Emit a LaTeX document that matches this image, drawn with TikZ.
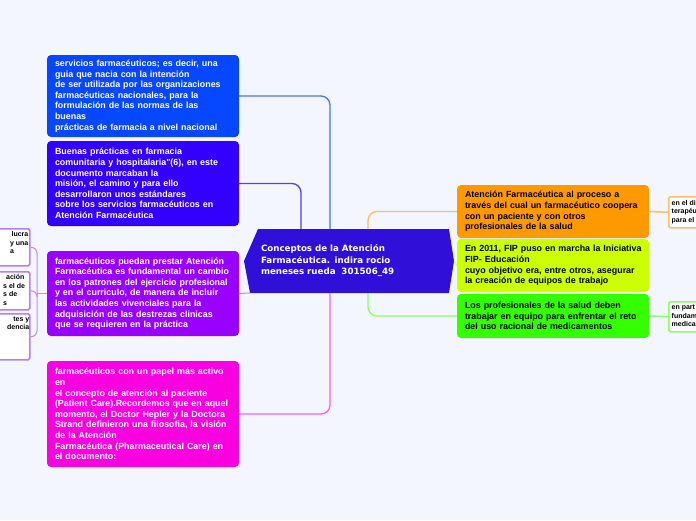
\documentclass[tikz,border=0pt]{standalone}
\usepackage{fontspec}
\setmainfont{Liberation Sans}[Ligatures=TeXOff]
\newfontfamily\dejavu{DejaVu Sans}
\definecolor{bgc}{HTML}{F3F6FE}
\definecolor{cblue}{HTML}{0548FF}
\definecolor{cindigo}{HTML}{3300FF}
\definecolor{cpurple}{HTML}{9900FF}
\definecolor{cmagenta}{HTML}{F800DF}
\definecolor{ccenter}{HTML}{3010D8}
\definecolor{corange}{HTML}{FF9900}
\definecolor{cyellow}{HTML}{CCFF00}
\definecolor{cgreen}{HTML}{33FF00}
\definecolor{lblue}{HTML}{4573FF}
\definecolor{lindigo}{HTML}{5A3BF0}
\definecolor{lpurple}{HTML}{C58CFF}
\definecolor{lmagenta}{HTML}{FF5CEE}
\definecolor{lorange}{HTML}{FFBE66}
\definecolor{lyellow}{HTML}{DDFF55}
\definecolor{lgreen}{HTML}{88FF66}
\definecolor{bpurple}{HTML}{B77CFF}
\begin{document}
\begin{tikzpicture}[x=1pt,y=-1pt,
  bigbox/.style={rectangle, rounded corners=4pt, minimum width=192pt, text width=176pt,
    inner xsep=8pt, inner ysep=0pt, align=left,
    font=\fontsize{8.9}{10.6}\selectfont\bfseries},
  wbox/.style={bigbox, text=white},
  kbox/.style={bigbox, text=black},
  conn/.style={line width=1.3pt, rounded corners=9pt},
  thinconn/.style={line width=1pt, rounded corners=6pt},
  sbox/.style={rectangle, rounded corners=1.5pt, line width=1.5pt, fill=white, inner sep=0pt},
  stxt/.style={inner sep=0pt, font=\fontsize{7}{8.5}\selectfont\bfseries, text=black}
]
\useasboundingbox (0,0) rectangle (696,520);
\fill[bgc] (0,0) rectangle (696,520);

% central topic shape
\fill[ccenter] (258,229) -- (449,229) -- (454,261) -- (449,293) -- (250,293) -- (244,261) -- cycle;
\node[minimum width=209pt, minimum height=64pt, text width=177pt, inner xsep=16pt, inner ysep=0pt,
  align=left, text=white, font=\dejavu\fontsize{8.7}{11.5}\selectfont\bfseries]
  (ctr) at (349.5,261) {Conceptos de la Atención\\Farmacéutica. indira rocio\\meneses rueda\ \ 301506\_49};

% left main branches
\node[wbox, fill=cblue, minimum height=82pt] (b1) at (143,96) {servicios farmacéuticos; es decir, una\\guia que nacia con la intención\\de ser utilizada por las organizaciones\\farmacéuticas nacionales, para la\\formulación de las normas de las\\buenas\\prácticas de farmacia a nivel nacional};
\node[wbox, fill=cindigo, minimum height=85pt] (b2) at (143,183.5) {Buenas prácticas en farmacia\\comunitaria y hospitalaria"(6), en este\\documento marcaban la\\misión, el camino y para ello\\desarrollaron unos estándares\\sobre los servicios farmacéuticos en\\Atención Farmacéutica};
\node[wbox, fill=cpurple, minimum height=85pt] (b3) at (143,293.5) {farmacéuticos puedan prestar Atención\\Farmacéutica es fundamental un cambio\\en los patrones del ejercicio profesional\\y en el curriculo, de manera de incluir\\las actividades vivenciales para la\\adquisición de las destrezas clinicas\\que se requieren en la práctica};
\node[wbox, fill=cmagenta, minimum height=106pt] (b4) at (143,414) {farmacéuticos con un papel más activo\\en\\el concepto de atención al paciente\\(Patient Care).Recordemos que en aquel\\momento, el Doctor Hepler y la Doctora\\Strand definieron una filosofia, la visión\\de la Atención\\Farmacéutica (Pharmaceutical Care) en\\el documento:};

% right main branches
\node[kbox, fill=corange, minimum height=53pt] (o1) at (553,211.5) {Atención Farmacéutica al proceso a\\través del cual un farmacéutico coopera\\con un paciente y con otros\\profesionales de la salud};
\node[kbox, fill=cyellow, minimum height=53pt] (y1) at (553,265.5) {\mbox{En 2011, FIP puso en marcha la Iniciativa}\\FIP- Educación\\cuyo objetivo era, entre otros, asegurar\\la creación de equipos de trabajo};
\node[kbox, fill=cgreen, minimum height=44pt] (g1) at (553,316) {Los profesionales de la salud deben\\trabajar en equipo para enfrentar el reto\\del uso racional de medicamentos};

% small boxes, left (cut by the edge)
\node[sbox, draw=bpurple, minimum width=41pt, minimum height=37pt, anchor=north west] (s1) at (-12,228) {};
\node[sbox, draw=bpurple, minimum width=41pt, minimum height=38pt, anchor=north west] (s2) at (-12,271) {};
\node[sbox, draw=bpurple, minimum width=41pt, minimum height=46pt, anchor=north west] (s3) at (-12,313) {};
\node[stxt, align=right, anchor=north east] (s1t) at ([shift={(-2,3.5)}]s1.north east) {lucra\\y una\\a\hphantom{ una}};
\node[stxt, align=left, anchor=north west] (s2t) at (3,274.5) {\hspace{3pt}ación\\s el de\\s de\\s};
\node[stxt, align=right, anchor=north east] (s3t) at ([shift={(-1,3.5)}]s3.north east) {tes y\\dencia};

% small boxes, right (cut by the edge)
\node[sbox, draw=lorange, minimum width=44pt, minimum height=31pt, anchor=north west] (r1) at (668,196) {};
\node[sbox, draw=lgreen, minimum width=44pt, minimum height=30pt, anchor=north west] (r2) at (668,301) {};
\node[stxt, align=left, anchor=north west] (r1t) at ([shift={(3.5,4)}]r1.north west) {en el di\\terapéu\\para el};
\node[stxt, align=left, anchor=north west] (r2t) at ([shift={(3.5,4)}]r2.north west) {en part\\fundam\\medica};

% attachment points on the central topic
\coordinate (cB) at (330,229);
\coordinate (cI) at (301,229);
\coordinate (cO) at (368,229);
\coordinate (cM) at (330,293);
\coordinate (cG) at (368,293);
\coordinate (cP) at (250,293);
\coordinate (br) at (37,293.5);

% connectors
\draw[conn, draw=lblue] (b1.east) -| (cB);
\draw[conn, draw=lindigo] (b2.east) -| (cI);
\draw[conn, draw=lpurple, line width=1pt] (b3.east) -- (cP);
\draw[conn, draw=lmagenta] (b4.east) -| (cM);
\draw[conn, draw=lorange] (cO) |- (o1.west);
\draw[conn, draw=lyellow] (ctr.east) -- (y1.west);
\draw[conn, draw=lgreen] (cG) |- (g1.west);
\draw[thinconn, draw=lorange, line width=1.5pt] (o1.east) -- (r1.west);
\draw[thinconn, draw=lgreen, line width=1.5pt] (g1.east) -- (r2.west);
\draw[thinconn, draw=lpurple] (b3.west) -- (br);
\draw[thinconn, draw=lpurple] (br) |- (s1.east);
\draw[thinconn, draw=lpurple] (br) |- (s2.east);
\draw[thinconn, draw=lpurple] (br) |- (s3.east);
\end{tikzpicture}
\end{document}
